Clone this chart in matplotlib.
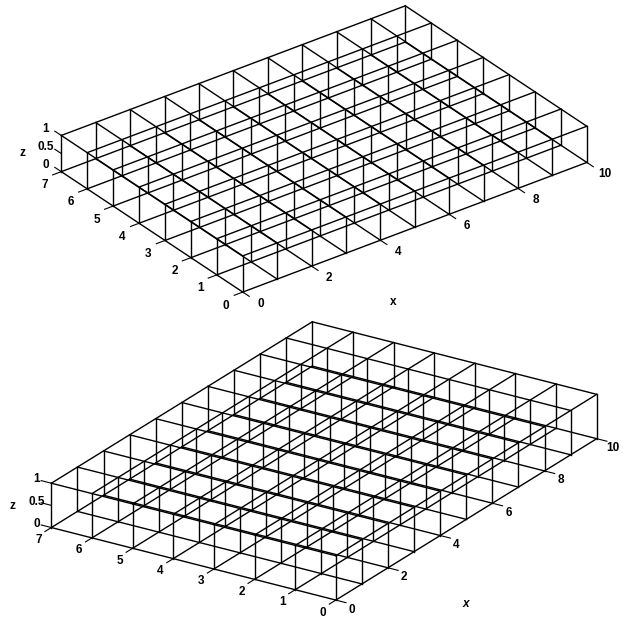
import numpy as np
import matplotlib
matplotlib.use('Agg')
import matplotlib.pyplot as plt
from mpl_toolkits.mplot3d import Axes3D

plt.rcParams['font.family'] = ['Liberation Sans', 'DejaVu Sans']

x_grid = [0, 1, 2, 3, 4, 5, 6, 7, 8, 9, 10]
y_grid = [0, 1, 2, 3, 4, 5, 6, 7]
z_grid = [0, 1]
x_ticks = [0, 2, 4, 6, 8, 10]
y_ticks = [0, 1, 2, 3, 4, 5, 6, 7]
z_ticks = [0, 0.5, 1]
z_tick_labels = ['0', '0.5', '1']


def lattice(ax):
    # every edge of the 10 x 7 x 1 block of unit cells
    for y in y_grid:
        for z in z_grid:
            ax.plot([x_grid[0], x_grid[-1]], [y, y], [z, z], color='k', lw=1.0, clip_on=False)
    for x in x_grid:
        for z in z_grid:
            ax.plot([x, x], [y_grid[0], y_grid[-1]], [z, z], color='k', lw=1.0, clip_on=False)
    for x in x_grid:
        for y in y_grid:
            ax.plot([x, x], [y, y], [z_grid[0], z_grid[-1]], color='k', lw=1.0, clip_on=False)


def ticks(ax, xl, yl, zl):
    for x in x_ticks:
        ax.plot([x, x], [0, -0.25], [0, 0], color='k', lw=0.8, clip_on=False)
        ax.text(x, xl[0], xl[1], str(x), ha='center', va='center', fontsize=8.5, fontweight='bold')
    for y in y_ticks:
        ax.plot([0, -0.25], [y, y], [0, 0], color='k', lw=0.8, clip_on=False)
        ax.text(yl[0], y, yl[1], str(y), ha='center', va='center', fontsize=8.5, fontweight='bold')
    for z, s in zip(z_ticks, z_tick_labels):
        ax.plot([0, 0], [7, 7.25], [z, z], color='k', lw=0.8, clip_on=False)
        ax.text(0, zl[0], z + zl[1], s, ha='center', va='center', fontsize=8.5, fontweight='bold')


def make_axes(fig, pos, elev, azim, zoom, zbox):
    ax = fig.add_axes(pos, projection='3d')
    ax.set_proj_type('ortho')
    ax.set_xlim(0, 10)
    ax.set_ylim(0, 7)
    ax.set_zlim(0, 1)
    ax.set_box_aspect((10, 7, zbox), zoom=zoom)
    ax.view_init(elev=elev, azim=azim)
    ax.set_axis_off()
    return ax


fig = plt.figure(figsize=(6.23, 6.20), dpi=100)

# top view
ax1 = make_axes(fig, [170 / 623, 317 / 620, 300 / 623, 300 / 620], 30, -127, 1.707, 0.97)
lattice(ax1)
ticks(ax1, (-0.68, 0), (-0.48, -0.2), (7.6, -0.1))
ax1.text(2.5, -2.47, 0, 'x', ha='center', va='center', fontsize=8.5, fontweight='bold')
ax1.text(0, 8.5, -0.2, 'z', ha='center', va='center', fontsize=8.5, fontweight='bold')

# bottom view
ax2 = make_axes(fig, [170 / 623, 5 / 620, 300 / 623, 300 / 620], 23.4, -147.3, 1.914, 1.0)
lattice(ax2)
ticks(ax2, (-0.4, -0.12), (-0.5, -0.1), (7.37, 0))
ax2.text(1.29, -2.37, 0, 'x', ha='center', va='center', fontsize=8.5, fontstyle='italic', fontweight='bold')
ax2.text(0, 7.95, 0.27, 'z', ha='center', va='center', fontsize=8.5, fontweight='bold')

fig.savefig('out.png', dpi=100)
